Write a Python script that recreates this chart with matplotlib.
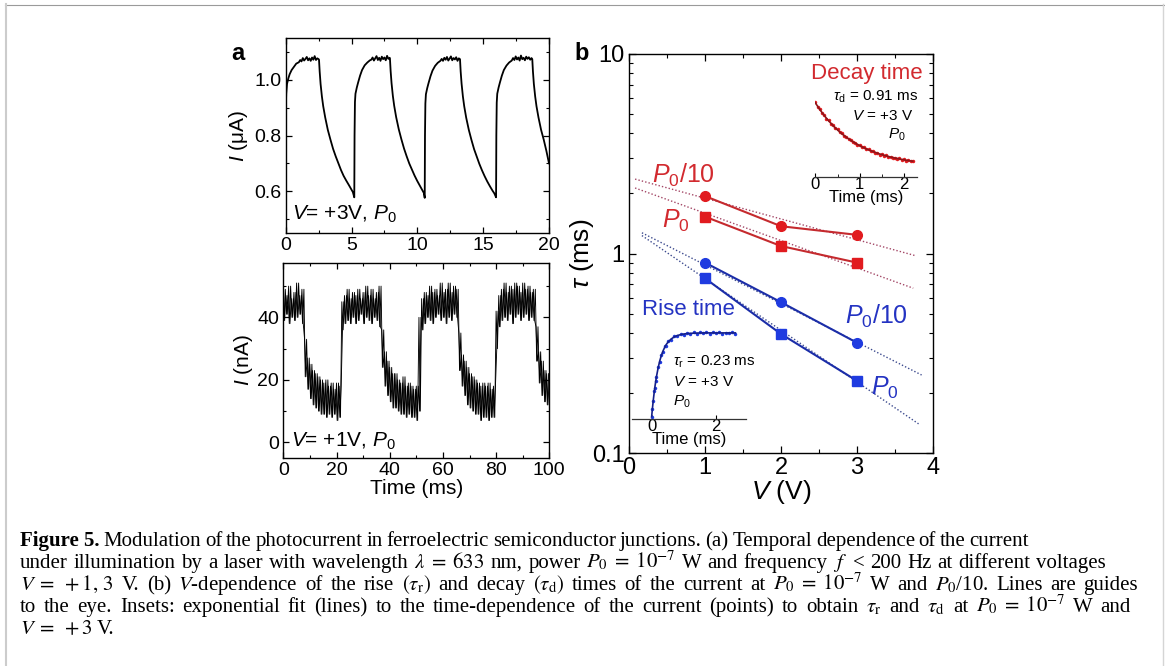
import numpy as np
import matplotlib.pyplot as plt
from matplotlib.lines import Line2D
from matplotlib.ticker import MultipleLocator, LogLocator, NullFormatter

plt.rcParams['font.family'] = ['Liberation Sans', 'DejaVu Sans']
plt.rcParams['mathtext.fontset'] = 'custom'
plt.rcParams['mathtext.rm'] = 'Liberation Sans'
plt.rcParams['mathtext.it'] = 'Liberation Sans:italic'
plt.rcParams['mathtext.bf'] = 'Liberation Sans:bold'

# Panel a (top): photocurrent at V=+3V, time (ms) / current (uA)
t_top = [0, 0.04, 0.1, 0.2, 0.3, 0.45, 0.6, 0.8, 1.0, 1.1, 1.2, 1.3, 1.4, 1.5, 1.6, 1.7, 1.8, 1.9, 2.0, 2.1, 2.2, 2.3, 2.4, 2.5,
         2.53, 2.58, 2.65, 2.75, 2.85, 3.0, 3.2, 3.4, 3.6, 3.8, 4.0, 4.2, 4.4, 4.6, 4.8, 5.0, 5.1, 5.21,
         5.23, 5.26, 5.3, 5.4, 5.5, 5.65, 5.8, 6.0, 6.2, 6.4, 6.5, 6.6, 6.7, 6.8, 6.9, 7.0, 7.1, 7.2, 7.3, 7.4, 7.5, 7.6, 7.7, 7.8, 7.9,
         7.92, 7.97, 8.04, 8.14, 8.24, 8.39, 8.59, 8.79, 8.99, 9.19, 9.39, 9.59, 9.79, 9.99, 10.19, 10.39, 10.49, 10.56,
         10.58, 10.61, 10.65, 10.75, 10.85, 11.0, 11.15, 11.35, 11.55, 11.75, 11.85, 11.95, 12.05, 12.15, 12.25, 12.35, 12.45, 12.55, 12.65, 12.75, 12.85, 12.95, 13.05, 13.15,
         13.24, 13.29, 13.36, 13.46, 13.56, 13.71, 13.91, 14.11, 14.31, 14.51, 14.71, 14.91, 15.11, 15.31, 15.51, 15.71, 15.85, 15.98,
         16.0, 16.03, 16.07, 16.17, 16.27, 16.42, 16.57, 16.77, 16.97, 17.17, 17.27, 17.37, 17.47, 17.57, 17.67, 17.77, 17.87, 17.97, 18.07, 18.17, 18.27, 18.37, 18.47, 18.57, 18.67,
         18.73, 18.78, 18.85, 18.95, 19.05, 19.2, 19.4, 19.6, 19.8, 20.0]
i_top = [0.885, 0.95, 0.985, 1.005, 1.02, 1.035, 1.045, 1.058, 1.063, 1.071, 1.066, 1.078, 1.069, 1.075, 1.082, 1.070, 1.077, 1.068, 1.080, 1.072, 1.085, 1.071, 1.077, 1.074,
         1.072, 1.03, 0.985, 0.94, 0.905, 0.865, 0.82, 0.785, 0.752, 0.725, 0.70, 0.676, 0.655, 0.638, 0.622, 0.605, 0.597, 0.578,
         0.80, 0.92, 0.95, 0.972, 0.99, 1.015, 1.035, 1.052, 1.062, 1.07, 1.072, 1.080, 1.069, 1.077, 1.085, 1.071, 1.079, 1.068, 1.083, 1.074, 1.080, 1.070, 1.086, 1.075, 1.079,
         1.075, 1.032, 0.988, 0.942, 0.907, 0.866, 0.822, 0.786, 0.753, 0.725, 0.699, 0.677, 0.656, 0.637, 0.620, 0.603, 0.594, 0.576,
         0.80, 0.915, 0.948, 0.97, 0.988, 1.013, 1.033, 1.05, 1.061, 1.068, 1.075, 1.068, 1.079, 1.072, 1.082, 1.069, 1.076, 1.084, 1.070, 1.078, 1.073, 1.081, 1.068, 1.077,
         1.074, 1.03, 0.986, 0.94, 0.905, 0.864, 0.82, 0.784, 0.751, 0.724, 0.698, 0.675, 0.654, 0.635, 0.618, 0.602, 0.592, 0.578,
         0.80, 0.918, 0.95, 0.972, 0.99, 1.015, 1.035, 1.051, 1.062, 1.069, 1.078, 1.071, 1.084, 1.073, 1.080, 1.069, 1.087, 1.074, 1.079, 1.070, 1.083, 1.075, 1.081, 1.072, 1.078,
         1.074, 1.03, 0.985, 0.94, 0.905, 0.865, 0.82, 0.785, 0.745, 0.70]

# Panel a (bottom): photocurrent at V=+1V, noise envelope read every 1 ms (nA)
t_bot = list(range(0, 101))
hi_bot = [49, 47, 50, 46, 48, 51, 47, 49,
          33, 27, 25, 23, 22, 21, 20, 19, 20, 18, 19, 17, 19, 18,
          45, 47, 49, 46, 48, 47, 49, 46, 48, 50, 47, 49, 46, 48, 50,
          36, 29, 26, 24, 22, 22, 20, 19, 21, 18, 19, 18, 17, 18,
          40,
          46, 48, 47, 50, 48, 49, 47, 51, 48, 49, 51, 48, 50, 49,
          35, 28, 26, 24, 22, 21, 20, 19, 18, 19, 18, 19, 17, 18,
          42,
          47, 49, 51, 48, 50, 49, 51, 50, 48, 51, 49, 50, 48, 49,
          37, 29, 26, 23, 22, 21]
lo_bot = [39, 41, 38, 40, 39, 40, 41, 38,
          21, 17, 14, 12, 11, 10, 9, 9, 8, 9, 8, 9, 7, 8,
          36, 38, 39, 38, 40, 38, 39, 41, 38, 40, 39, 38, 40, 39, 37,
          24, 18, 15, 13, 11, 11, 10, 9, 9, 8, 9, 8, 8, 7,
          10,
          36, 38, 40, 39, 38, 40, 41, 39, 40, 38, 40, 39, 41, 40,
          23, 18, 15, 12, 11, 10, 9, 9, 7, 8, 8, 7, 8, 8,
          30,
          37, 39, 40, 39, 41, 38, 40, 41, 39, 40, 41, 39, 40, 39,
          26, 19, 15, 13, 12, 11]

# Panel b: rise / decay times vs voltage
volts = [1, 2, 3]
decay_p010 = [1.94, 1.37, 1.24]
decay_p0 = [1.53, 1.09, 0.90]
rise_p010 = [0.90, 0.57, 0.357]
rise_p0 = [0.751, 0.395, 0.23]

# guide lines (dotted) end points
guide_decay_p010 = ([0.08, 3.77], [2.36, 0.975])
guide_decay_p0 = ([0.08, 3.74], [2.13, 0.67])
guide_rise_p010 = ([0.17, 3.85], [1.27, 0.246])
guide_rise_p0 = ([0.17, 3.81], [1.23, 0.14])

# decay inset (normalised current vs time, ms)
dec_t = [0, 0.05, 0.1, 0.15, 0.2, 0.25, 0.3, 0.35, 0.4, 0.45, 0.5, 0.55, 0.6, 0.65, 0.7, 0.75, 0.8, 0.85, 0.9, 0.95,
         1.0, 1.05, 1.1, 1.15, 1.2, 1.25, 1.3, 1.35, 1.4, 1.45, 1.5, 1.55, 1.6, 1.65, 1.7, 1.75, 1.8, 1.85, 1.9, 1.95,
         2.0, 2.05, 2.1, 2.15, 2.2]
dec_pts = [0.935, 0.880, 0.852, 0.801, 0.778, 0.731, 0.712, 0.668, 0.651, 0.611, 0.598, 0.560, 0.550, 0.515, 0.507, 0.474,
           0.468, 0.437, 0.434, 0.405, 0.402, 0.375, 0.375, 0.349, 0.350, 0.325, 0.329, 0.305, 0.309, 0.285, 0.291, 0.269,
           0.275, 0.253, 0.259, 0.240, 0.247, 0.228, 0.236, 0.217, 0.226, 0.207, 0.216, 0.198, 0.207]
dec_fit = [0.930, 0.887, 0.847, 0.808, 0.772, 0.738, 0.705, 0.675, 0.645, 0.618, 0.592, 0.567, 0.544, 0.522, 0.500, 0.481,
           0.462, 0.444, 0.428, 0.412, 0.396, 0.382, 0.369, 0.356, 0.344, 0.332, 0.322, 0.312, 0.302, 0.292, 0.284, 0.276,
           0.268, 0.260, 0.253, 0.247, 0.240, 0.235, 0.229, 0.224, 0.219, 0.214, 0.209, 0.205, 0.201]

# rise inset
rise_t = [0, 0.02, 0.05, 0.08, 0.1, 0.12, 0.15, 0.2, 0.25, 0.3, 0.35, 0.4, 0.45, 0.5, 0.6, 0.7, 0.8, 0.9, 1.0,
          1.1, 1.2, 1.3, 1.4, 1.5, 1.6, 1.7, 1.8, 1.9, 2.0, 2.1, 2.2, 2.3, 2.4, 2.5, 2.6]
rise_pts = [0.03, 0.115, 0.200, 0.315, 0.350, 0.420, 0.465, 0.585, 0.635, 0.720, 0.748, 0.810, 0.820, 0.868, 0.882,
            0.928, 0.922, 0.952, 0.938, 0.962, 0.948, 0.968, 0.950, 0.965, 0.955, 0.970, 0.952, 0.966, 0.956, 0.969,
            0.951, 0.964, 0.957, 0.968, 0.953]
rise_fit = [0.03, 0.107, 0.211, 0.303, 0.358, 0.408, 0.475, 0.570, 0.647, 0.708, 0.757, 0.796, 0.829, 0.854, 0.891,
            0.915, 0.931, 0.941, 0.948, 0.952, 0.955, 0.957, 0.958, 0.959, 0.96, 0.96, 0.96, 0.96, 0.96, 0.96, 0.96,
            0.96, 0.96, 0.96, 0.96]

# caption lines and where each line ends in the reference (px)
cap = [r'Modulation of the photocurrent in ferroelectric semiconductor junctions. (a) Temporal dependence of the current',
       r'under illumination by a laser with wavelength $\lambda\;=\;633$ nm, power $P_0\;=\;10^{-7}$ W and frequency $f$ < 200 Hz at different voltages',
       r'$V\;=\;+1,\,3$ V. (b) $V$-dependence of the rise $(\tau_\mathrm{r})$ and decay $(\tau_\mathrm{d})$ times of the current at $P_0\;=\;10^{-7}$ W and $P_0$/10. Lines are guides',
       r'to the eye. Insets: exponential fit (lines) to the time-dependence of the current (points) to obtain $\tau_\mathrm{r}$ and $\tau_\mathrm{d}$ at $P_0\;=\;10^{-7}$ W and',
       r'$V\;=\;+3$ V.']
cap_end = [1029, 1106, 1138, 1131, None]

RED_PT, RED_LN, RED_DOT, RED_TXT = '#e11b1f', '#c52a2e', '#a34766', '#d22a2f'
BLUE_PT, BLUE_LN, BLUE_DOT, BLUE_TXT = '#1f3be0', '#1b2da8', '#3c4a8e', '#2433c2'

W, H = 1165, 666
fig = plt.figure(figsize=(W / 100, H / 100), dpi=100)


def box(l, t, r, b):
    return [l / W, 1 - b / H, (r - l) / W, (b - t) / H]


def style(ax, size, major, minor):
    ax.tick_params(which='both', direction='in', top=True, right=True, labelsize=size, pad=3)
    ax.tick_params(which='major', length=major, width=0.9)
    ax.tick_params(which='minor', length=minor, width=0.8)
    for s in ax.spines.values():
        s.set_linewidth(1.0)


# ---- panel a top
ax1 = fig.add_axes(box(285.7, 38, 549, 233))
ax1.plot(t_top, i_top, color='k', lw=1.3)
ax1.set_xlim(0, 20)
ax1.set_ylim(0.45, 1.15)
ax1.set_yticks([0.6, 0.8, 1.0], ['0.6', '0.8', '1.0'])
ax1.xaxis.set_major_locator(MultipleLocator(5))
ax1.xaxis.set_minor_locator(MultipleLocator(2.5))
ax1.yaxis.set_minor_locator(MultipleLocator(0.1))
style(ax1, 14, 4, 2.5)
ax1.set_ylabel('$I$ (μA)', fontsize=15)
ax1.yaxis.set_label_coords(-0.135, 0.5)
ax1.text(0.025, 0.04, '$V$= +3V, $P_0$', transform=ax1.transAxes, fontsize=15, ha='left', va='bottom')

# ---- panel a bottom (noise drawn as a zigzag between the read envelopes)
ax2 = fig.add_axes(box(283.3, 262.7, 549.3, 458))
zx, zy, zx2, zy2 = [], [], [], []
for k in range(len(t_bot)):
    zx += [t_bot[k], t_bot[k] + 0.5]
    zy += [hi_bot[k], lo_bot[k]]
    zx2 += [t_bot[k] + 0.25, t_bot[k] + 0.75]
    zy2 += [lo_bot[k], hi_bot[k]]
ax2.plot(zx, zy, color='k', lw=0.65)
ax2.plot(zx2[:-2], zy2[:-2], color='k', lw=0.65)
ax2.set_xlim(0, 100)
ax2.set_ylim(-5, 57.5)
ax2.set_yticks([0, 20, 40])
ax2.xaxis.set_major_locator(MultipleLocator(20))
ax2.xaxis.set_minor_locator(MultipleLocator(10))
ax2.yaxis.set_minor_locator(MultipleLocator(10))
style(ax2, 14, 4, 2.5)
ax2.set_ylabel('$I$ (nA)', fontsize=15)
ax2.yaxis.set_label_coords(-0.105, 0.5)
ax2.set_xlabel('Time (ms)', fontsize=15, labelpad=0)
ax2.text(0.03, 0.03, '$V$= +1V, $P_0$', transform=ax2.transAxes, fontsize=15, ha='left', va='bottom')

fig.text(238 / W, 1 - 54 / H, 'a', fontsize=17, fontweight='bold', ha='center', va='center')
fig.text(582 / W, 1 - 53 / H, 'b', fontsize=17, fontweight='bold', ha='center', va='center')

# ---- panel b
axb = fig.add_axes(box(629, 54, 933, 453))
axb.set_yscale('log')
for gx, gy, c in [(*guide_decay_p010, RED_DOT), (*guide_decay_p0, RED_DOT),
                  (*guide_rise_p010, BLUE_DOT), (*guide_rise_p0, BLUE_DOT)]:
    axb.plot(gx, gy, ls=(0, (1, 1.5)), color=c, lw=1.0)
axb.plot(volts, decay_p010, '-o', color=RED_LN, mfc=RED_PT, mec=RED_PT, ms=7, lw=1.5)
axb.plot(volts, decay_p0, '-s', color=RED_LN, mfc=RED_PT, mec=RED_PT, ms=6.5, lw=1.5)
axb.plot(volts, rise_p010, '-o', color=BLUE_LN, mfc=BLUE_PT, mec=BLUE_PT, ms=7, lw=1.5)
axb.plot(volts, rise_p0, '-s', color=BLUE_LN, mfc=BLUE_PT, mec=BLUE_PT, ms=6.5, lw=1.5)
axb.set_xlim(0, 4)
axb.set_ylim(0.1, 10)
axb.set_yticks([0.1, 1, 10], ['0.1', '1', '10'])
axb.yaxis.set_minor_locator(LogLocator(subs=np.arange(2, 10)))
axb.yaxis.set_minor_formatter(NullFormatter())
axb.xaxis.set_major_locator(MultipleLocator(1))
axb.xaxis.set_minor_locator(MultipleLocator(0.5))
style(axb, 17, 5, 3)
axb.set_xlabel('$V$ (V)', fontsize=19, labelpad=-1)
axb.set_ylabel(r'$\tau$ (ms)', fontsize=19)
axb.yaxis.set_label_coords(-0.11, 0.5)

axb.text(0.72, 2.47, '$P_0$/10', color=RED_TXT, fontsize=18, ha='center', va='center')
axb.text(0.62, 1.455, '$P_0$', color=RED_TXT, fontsize=18, ha='center', va='center')
axb.text(3.26, 0.483, '$P_0$/10', color=BLUE_TXT, fontsize=18, ha='center', va='center')
axb.text(3.37, 0.213, '$P_0$', color=BLUE_TXT, fontsize=18, ha='center', va='center')
axb.text(3.86, 7.98, 'Decay time', color=RED_TXT, fontsize=16, ha='right', va='center')
axb.text(0.167, 0.521, 'Rise time', color=BLUE_TXT, fontsize=16, ha='left', va='center')

# ---- insets
insd = fig.add_axes(box(815, 97.3, 916.7, 177.3))
insd.plot(dec_t, dec_pts, 'o', color=RED_PT, ms=2.5, mew=0)
insd.plot(dec_t, dec_fit, color='#8e1518', lw=1.2)
insd.set_xlim(-0.01, 2.29)
insd.set_ylim(0, 1)
insd.xaxis.set_major_locator(MultipleLocator(1))
insd.xaxis.set_minor_locator(MultipleLocator(0.5))
insd.set_xlabel('Time (ms)', fontsize=12, labelpad=-2)

insr = fig.add_axes(box(631.7, 329.3, 746, 419.3))
insr.plot(rise_t, rise_pts, 'o', color=BLUE_PT, ms=2.5, mew=0)
insr.plot(rise_t, rise_fit, color='#15208a', lw=1.2)
insr.set_xlim(-0.62, 2.93)
insr.set_ylim(0, 1)
insr.set_xticks([0, 2])
insr.set_xlabel('Time (ms)', fontsize=12, labelpad=-2)

for ins in (insd, insr):
    ins.patch.set_visible(False)
    for s in ('left', 'right', 'top'):
        ins.spines[s].set_visible(False)
    ins.spines['bottom'].set_linewidth(0.9)
    ins.spines['bottom'].set_color('#333333')
    ins.set_yticks([])
    ins.tick_params(which='both', direction='in', labelsize=12, pad=0)
    ins.tick_params(which='major', length=3)
    ins.tick_params(which='minor', length=2)

fig.text(918 / W, 1 - 97 / H, r'$\tau_\mathrm{d}$ = 0.91 ms', fontsize=11, ha='right', va='center')
fig.text(913 / W, 1 - 116 / H, '$V$ = +3 V', fontsize=11, ha='right', va='center')
fig.text(906 / W, 1 - 135 / H, '$P_0$', fontsize=11, ha='right', va='center')
fig.text(673 / W, 1 - 362 / H, r'$\tau_\mathrm{r}$ = 0.23 ms', fontsize=11, ha='left', va='center')
fig.text(673 / W, 1 - 382 / H, '$V$ = +3 V', fontsize=11, ha='left', va='center')
fig.text(673 / W, 1 - 402 / H, '$P_0$', fontsize=11, ha='left', va='center')

# ---- caption: words spread so each line ends where the reference line ends
cfs = 15
rend = fig.canvas.get_renderer()
head = fig.text(20 / W, 1 - 546 / H, 'Figure 5.', family='Liberation Serif', fontweight='bold',
                fontsize=cfs, va='baseline')
hx = head.get_window_extent(rend).x1 + 4
for k, line in enumerate(cap):
    x0 = hx if k == 0 else 20
    yb = 1 - (546 + 22 * k) / H
    words = line.split(' ')
    arts = [fig.text(0, yb, w, family='Liberation Serif', math_fontfamily='stix', fontsize=cfs, va='baseline')
            for w in words]
    widths = [a.get_window_extent(rend).width for a in arts]
    space = 3.8
    if cap_end[k] is not None and len(words) > 1:
        space = (cap_end[k] - x0 - sum(widths)) / (len(words) - 1)
    x = x0
    for a, w in zip(arts, widths):
        a.set_x(x / W)
        x += w + space

# ---- outer frame
fig.add_artist(Line2D([5 / W, 1], [1 - 4.5 / H] * 2, transform=fig.transFigure, color='#9a9a9a', lw=0.8))
fig.add_artist(Line2D([5.5 / W] * 2, [0, 1 - 4 / H], transform=fig.transFigure, color='#cccccc', lw=1.5))
fig.add_artist(Line2D([1162.5 / W] * 2, [0, 1 - 4 / H], transform=fig.transFigure, color='#d5d5d5', lw=1.0))

fig.savefig('out.png', dpi=100)
